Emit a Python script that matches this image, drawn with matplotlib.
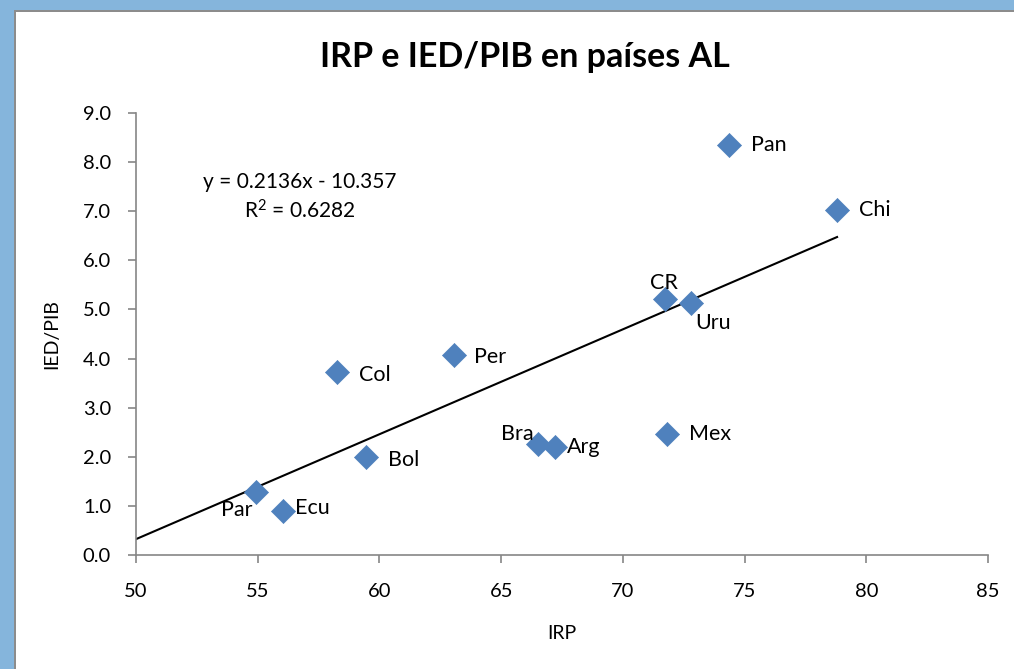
import matplotlib
matplotlib.use("Agg")
import matplotlib.pyplot as plt
from matplotlib.patches import Rectangle

countries = ["Pan", "Chi", "CR", "Uru", "Per", "Col", "Bra", "Arg", "Mex", "Bol", "Par", "Ecu"]
irp = [74.35, 78.8, 71.75, 72.8, 63.05, 58.25, 66.5, 67.2, 71.8, 59.45, 54.95, 56.05]
ied_pib = [8.35, 7.02, 5.22, 5.14, 4.08, 3.72, 2.26, 2.19, 2.47, 2.00, 1.29, 0.89]
slope, intercept, r2 = 0.2136, -10.357, 0.6282
x_ticks = [50, 55, 60, 65, 70, 75, 80, 85]
y_ticks = [0.0, 1.0, 2.0, 3.0, 4.0, 5.0, 6.0, 7.0, 8.0, 9.0]

# label offsets (pixels) and alignment
label_pos = {
    "Pan": (22, 0, "left", "center"),
    "Chi": (22, 0, "left", "center"),
    "CR": (-2, 6, "center", "bottom"),
    "Uru": (4, -10, "left", "top"),
    "Per": (20, -2, "left", "center"),
    "Col": (22, -3, "left", "center"),
    "Bra": (-4, 0, "right", "bottom"),
    "Arg": (12, 0, "left", "center"),
    "Mex": (22, 0, "left", "center"),
    "Bol": (22, -3, "left", "center"),
    "Par": (-4, -8, "right", "top"),
    "Ecu": (12, 3, "left", "center"),
}

font = "Lato"
plt.rcParams['font.family'] = [font, 'DejaVu Sans']
plt.rcParams['mathtext.fontset'] = 'custom'
plt.rcParams['mathtext.rm'] = font
plt.rcParams['mathtext.it'] = font
plt.rcParams['mathtext.bf'] = font + ':bold'

fig = plt.figure(figsize=(10.14, 6.69), dpi=100)
fig.patch.set_facecolor("white")
# frame
fig.add_artist(Rectangle((0, 1 - 10/669), 1, 10/669, transform=fig.transFigure,
                         facecolor="#85B5DC", edgecolor="none", zorder=0))
fig.add_artist(Rectangle((0, 0), 14/1014, 1, transform=fig.transFigure,
                         facecolor="#85B5DC", edgecolor="none", zorder=0))
fig.add_artist(Rectangle((14/1014, 0), 2/1014, 1 - 10/669, transform=fig.transFigure,
                         facecolor="#8C8C8C", edgecolor="none", zorder=0))
fig.add_artist(Rectangle((14/1014, 1 - 12/669), 1, 2/669, transform=fig.transFigure,
                         facecolor="#8C8C8C", edgecolor="none", zorder=0))

ax = fig.add_axes([136/1014, 1 - 555/669, (988 - 136)/1014, (555 - 113)/669])
ax.set_facecolor("white")
ax.set_xlim(50, 85)
ax.set_ylim(0, 9)

ax.scatter(irp, ied_pib, marker="D", s=150, color="#4F81BD", edgecolors="#4F81BD",
           linewidths=0.5, zorder=3)

xs = [50, max(irp)]
ax.plot(xs, [slope * x + intercept for x in xs], color="black", lw=1.5, zorder=2)

for c, x, y in zip(countries, irp, ied_pib):
    dx, dy, ha, va = label_pos[c]
    ax.annotate(c, (x, y), xytext=(dx * 0.72, dy * 0.72), textcoords="offset points",
                ha=ha, va=va, fontsize=15.5, color="black")

ax.text((300 - 136) / 852, (555 - 182) / 442, f"y = {slope}x - {abs(intercept)}",
        transform=ax.transAxes, ha="center", va="center", fontsize=15)
ax.text((300 - 136) / 852, (555 - 211) / 442, f"R$^{{\\mathrm{{2}}}}$ = {r2}",
        transform=ax.transAxes, ha="center", va="center", fontsize=15)

ax.set_xticks(x_ticks)
ax.set_xticklabels([str(v) for v in x_ticks])
ax.set_yticks(y_ticks)
ax.set_yticklabels([f"{v:.1f}" for v in y_ticks])
for s in ["top", "right"]:
    ax.spines[s].set_visible(False)
for s in ["left", "bottom"]:
    ax.spines[s].set_color("#868686")
    ax.spines[s].set_linewidth(1.2)
ax.tick_params(axis="x", direction="out", length=6, width=1.2, color="#868686",
               labelsize=14.5, pad=14)
ax.tick_params(axis="y", direction="out", length=6, width=1.2, color="#868686",
               labelsize=14.5, pad=12)

ax.set_xlabel("IRP", fontsize=14, labelpad=18)
ax.set_ylabel("IED/PIB", fontsize=14, labelpad=16)

fig.text(525/1014, 1 - 57/669, "IRP e IED/PIB en países AL", ha="center", va="center",
         fontsize=24.5, fontweight="bold")

fig.savefig("out.png", dpi=100, facecolor="white")
